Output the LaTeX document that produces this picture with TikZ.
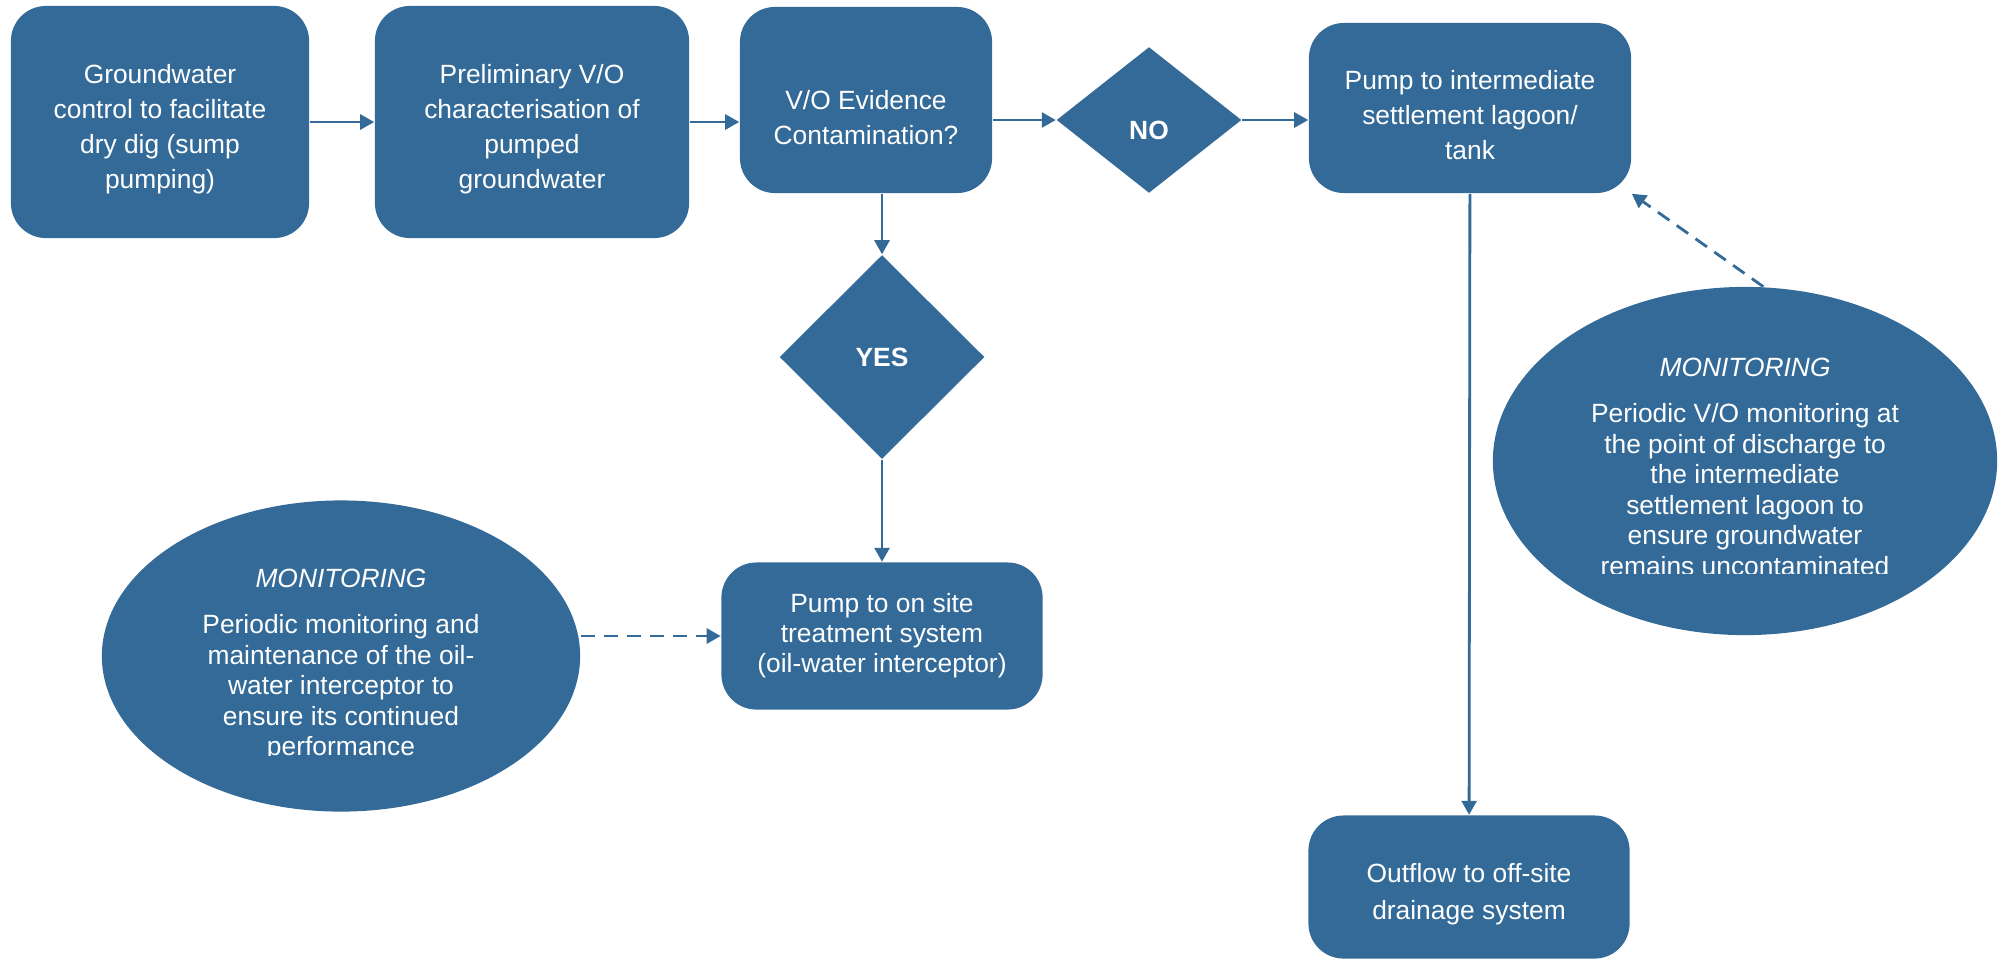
\documentclass[tikz,border=0pt]{standalone}
\usepackage{fontspec}
\setmainfont{Liberation Sans}
\usetikzlibrary{shapes.geometric,arrows.meta}
\definecolor{flowblue}{RGB}{52,106,151}

\begin{document}
\begin{tikzpicture}[x=0.01cm, y=-0.01cm,
  box/.style={fill=flowblue, rounded corners=0.35cm, text=white, align=center, inner sep=0pt, font=\fontsize{7.5}{10}\selectfont},
  choice/.style={diamond, fill=flowblue, text=white, inner sep=0pt, font=\fontsize{7.5}{9}\selectfont\bfseries},
  monitor/.style={ellipse, fill=flowblue, inner sep=0pt},
  montext/.style={text=white, align=center, inner sep=0pt, anchor=north, font=\fontsize{7.5}{8.7}\selectfont},
  flow/.style={draw=flowblue, line width=0.8pt, -{Triangle[length=0.14cm,width=0.15cm]}},
  feedback/.style={flow, dash pattern=on 0.14cm off 0.09cm}]

% Page size (pixels of the reference)
\useasboundingbox (0,0) rectangle (1998,960);

% Top row
\node[box, minimum width=2.98cm, minimum height=2.32cm] (gw) at (160,122) {\rule{0pt}{0.33cm}Groundwater\\control to facilitate\\dry dig (sump\\pumping)};
\node[box, minimum width=3.14cm, minimum height=2.32cm] (prelim) at (532,122) {\rule{0pt}{0.33cm}Preliminary V/O\\characterisation of\\pumped\\groundwater};
\node[box, minimum width=2.52cm, minimum height=1.86cm] (evid) at (866,100) {\rule{0pt}{0.55cm}V/O Evidence\\Contamination?};
\node[choice, minimum width=1.85cm, minimum height=1.46cm] (no) at (1149,120) {\rule{0pt}{0.39cm}NO};
\node[box, minimum width=3.22cm, minimum height=1.70cm] (lagoon) at (1470,108) {\rule{0pt}{0.33cm}Pump to intermediate\\settlement lagoon/\\tank};

% YES branch
\node[choice, minimum width=2.05cm, minimum height=2.04cm] (yes) at (882,357) {YES};
\node[box, minimum width=3.21cm, minimum height=1.47cm, font=\fontsize{7.5}{8.5}\selectfont] (treat) at (882,636) {Pump to on site\\treatment system\\(oil-water interceptor)};

% Outflow
\node[box, minimum width=3.21cm, minimum height=1.43cm, font=\fontsize{7.5}{10.5}\selectfont] (outflow) at (1469,887) {\rule{0pt}{0.33cm}Outflow to off-site\\drainage system};

% Monitoring ellipses (text cut off at the bottom)
\node[monitor, minimum width=4.78cm, minimum height=3.11cm] (lmon) at (341,656) {};
\begin{scope}
  \clip (102,501) rectangle (580,755);
  \node[montext] (lmontext) at (341,568) {\textit{MONITORING}\\[4.5pt]Periodic monitoring and\\maintenance of the oil-\\water interceptor to\\ensure its continued\\performance};
\end{scope}
\node[monitor, minimum width=5.04cm, minimum height=3.48cm] (rmon) at (1745,461) {};
\begin{scope}
  \clip (1493,287) rectangle (1997,573);
  \node[montext] (rmontext) at (1745,357) {\textit{MONITORING}\\[4.5pt]Periodic V/O monitoring at\\the point of discharge to\\the intermediate\\settlement lagoon to\\ensure groundwater\\remains uncontaminated};
\end{scope}

% Connectors
\draw[flow] (gw) -- (prelim);
\draw[flow] (prelim.east) -- (prelim.east -| evid.west);
\draw[flow] (evid.east |- no.west) -- (no.west);
\draw[flow] (no.east) -- (no.east -| lagoon.west);
\draw[flow] (evid.south -| yes.north) -- (yes.north);
\draw[flow] (yes) -- (treat);
\draw[flow] (lagoon) -- (outflow);
\draw[feedback] (lmon.east |- treat.west) -- (treat.west);
\draw[feedback] (rmon.84) -- (lagoon.south east);
\end{tikzpicture}
\end{document}
